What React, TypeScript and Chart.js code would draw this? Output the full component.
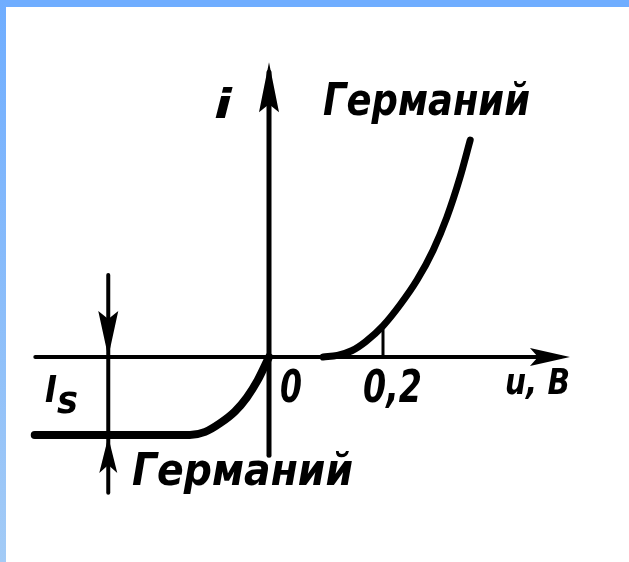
import React, { useEffect, useRef } from "react";
import { Chart, registerables } from "chart.js";

Chart.register(...registerables);

// Forward branch (germanium), u in V, i in relative units (Is = 1)
const forwardVoltage = [0.095, 0.12, 0.145, 0.17, 0.2, 0.23, 0.26, 0.288, 0.312, 0.335, 0.353];
const forwardCurrent = [0, 0.02, 0.08, 0.2, 0.4, 0.67, 0.99, 1.37, 1.79, 2.3, 2.78];

// Reverse branch (germanium)
const reverseVoltage = [-0.411, -0.139, -0.112, -0.086, -0.06, -0.039, -0.02, 0];
const reverseCurrent = [-1, -1, -0.96, -0.85, -0.7, -0.52, -0.3, 0];

// Tick mark at 0.2 V
const tickVoltage = [0.2, 0.2];
const tickCurrent = [0, 0.4];

// Axis extents (data units)
const uAxisRange = [-0.41, 0.528];
const iAxisRange = [-1.26, 3.78];

// Is marker position and extents
const isMarkerVoltage = -0.282;
const isMarkerTop = 1.05;
const isMarkerBottom = -1.74;
const saturationCurrent = -1;

// Texts
const axisLabelI = "i";
const axisLabelU = "u, В";
const tickLabelZero = "0";
const tickLabelPoint2 = "0,2";
const curveLabel = "Германий";
const isLabelMain = "I";
const isLabelSub = "s";

const scaleX = { min: -269 / 570, max: 360 / 570 };
const scaleY = { min: -205 / 78, max: 357 / 78 };

const FONT = '"DejaVu Sans Condensed", "DejaVu Sans", sans-serif';

function toPoints(xs: number[], ys: number[]) {
  return xs.map((x, k) => ({ x, y: ys[k] }));
}

function drawFitText(
  ctx: CanvasRenderingContext2D,
  text: string,
  left: number,
  baseline: number,
  size: number,
  width: number
) {
  ctx.save();
  ctx.font = `italic bold ${size}px ${FONT}`;
  ctx.textBaseline = "alphabetic";
  ctx.textAlign = "left";
  const w = ctx.measureText(text).width;
  const sx = w > 0 ? width / w : 1;
  ctx.translate(left, baseline);
  ctx.scale(sx, 1);
  ctx.fillStyle = "#000";
  ctx.fillText(text, 0, 0);
  ctx.restore();
}

function arrowHead(
  ctx: CanvasRenderingContext2D,
  tipX: number,
  tipY: number,
  dirX: number,
  dirY: number,
  len: number,
  half: number
) {
  const px = -dirY;
  const py = dirX;
  const bx = tipX - dirX * len;
  const by = tipY - dirY * len;
  const nx = tipX - dirX * (len - 8);
  const ny = tipY - dirY * (len - 8);
  ctx.beginPath();
  ctx.moveTo(tipX, tipY);
  ctx.lineTo(bx + px * half, by + py * half);
  ctx.lineTo(nx, ny);
  ctx.lineTo(bx - px * half, by - py * half);
  ctx.closePath();
  ctx.fill();
}

const diagramPlugin = {
  id: "diagram",
  afterDatasetsDraw(chart: any) {
    const ctx: CanvasRenderingContext2D = chart.ctx;
    const xs = chart.scales.x;
    const ys = chart.scales.y;
    const ox = xs.getPixelForValue(0);
    const oy = ys.getPixelForValue(0);
    ctx.save();
    ctx.strokeStyle = "#000";
    ctx.fillStyle = "#000";
    ctx.lineCap = "round";

    // horizontal axis
    const xl = xs.getPixelForValue(uAxisRange[0]);
    const xr = xs.getPixelForValue(uAxisRange[1]);
    ctx.lineWidth = 4;
    ctx.beginPath();
    ctx.moveTo(xl, oy);
    ctx.lineTo(xr - 10, oy);
    ctx.stroke();
    arrowHead(ctx, xr, oy, 1, 0, 40, 9);

    // vertical axis
    const yt = ys.getPixelForValue(iAxisRange[1]);
    const yb = ys.getPixelForValue(iAxisRange[0]);
    ctx.lineWidth = 5;
    ctx.beginPath();
    ctx.moveTo(ox, yb);
    ctx.lineTo(ox, yt + 10);
    ctx.stroke();
    arrowHead(ctx, ox, yt, 0, -1, 50, 10);

    // Is marker
    const mx = xs.getPixelForValue(isMarkerVoltage);
    const mTop = ys.getPixelForValue(isMarkerTop);
    const mBot = ys.getPixelForValue(isMarkerBottom);
    const sY = ys.getPixelForValue(saturationCurrent);
    ctx.lineWidth = 4;
    ctx.beginPath();
    ctx.moveTo(mx, mTop);
    ctx.lineTo(mx, mBot);
    ctx.stroke();
    arrowHead(ctx, mx, oy, 0, 1, 46, 10);
    arrowHead(ctx, mx, sY + 2, 0, -1, 36, 9);

    // labels
    drawFitText(ctx, axisLabelI, ox - 55, oy - 239, 40, 18);
    drawFitText(ctx, curveLabel, ox + 54, oy - 242, 44, 207);
    drawFitText(ctx, curveLabel, ox - 137, oy + 128, 45, 221);
    drawFitText(ctx, isLabelMain, ox - 224, oy + 45, 38, 12);
    drawFitText(ctx, isLabelSub, ox - 212, oy + 56, 38, 21);
    drawFitText(ctx, tickLabelZero, ox + 11, oy + 45, 45, 22);
    drawFitText(ctx, tickLabelPoint2, xs.getPixelForValue(0.2) - 20, oy + 45, 45, 59);
    drawFitText(ctx, axisLabelU, xr - 65, oy + 37, 35, 65);

    ctx.restore();
  },
};

export default function App() {
  const canvasRef = useRef<HTMLCanvasElement | null>(null);

  useEffect(() => {
    document.body.style.margin = "0";
    const canvas = canvasRef.current;
    if (!canvas) return;
    const chart = new Chart(canvas, {
      type: "scatter",
      data: {
        datasets: [
          {
            data: toPoints(forwardVoltage, forwardCurrent),
            showLine: true,
            borderColor: "#000",
            borderWidth: 7,
            pointRadius: 0,
            cubicInterpolationMode: "monotone",
            borderCapStyle: "round",
          } as any,
          {
            data: toPoints(reverseVoltage, reverseCurrent),
            showLine: true,
            borderColor: "#000",
            borderWidth: 8,
            pointRadius: 0,
            cubicInterpolationMode: "monotone",
            borderCapStyle: "round",
          } as any,
          {
            data: toPoints(tickVoltage, tickCurrent),
            showLine: true,
            borderColor: "#000",
            borderWidth: 3,
            pointRadius: 0,
          } as any,
        ],
      },
      options: {
        animation: false,
        responsive: false,
        devicePixelRatio: 1,
        layout: { padding: 0 },
        plugins: {
          legend: { display: false },
          tooltip: { enabled: false },
        },
        scales: {
          x: { type: "linear", display: false, min: scaleX.min, max: scaleX.max },
          y: { type: "linear", display: false, min: scaleY.min, max: scaleY.max },
        },
      },
      plugins: [diagramPlugin],
    });
    return () => chart.destroy();
  }, []);

  return (
    <div
      style={{
        position: "relative",
        width: 629,
        height: 562,
        background: "#fff",
        overflow: "hidden",
      }}
    >
      <canvas
        ref={canvasRef}
        width={629}
        height={562}
        style={{ position: "absolute", left: 0, top: 0, width: 629, height: 562 }}
      />
      <div
        style={{
          position: "absolute",
          left: 0,
          top: 0,
          width: 629,
          height: 7,
          background: "#6fadff",
        }}
      />
      <div
        style={{
          position: "absolute",
          left: 0,
          top: 0,
          width: 6,
          height: 562,
          background: "linear-gradient(#6fadff, #a3cbf6)",
        }}
      />
    </div>
  );
}
